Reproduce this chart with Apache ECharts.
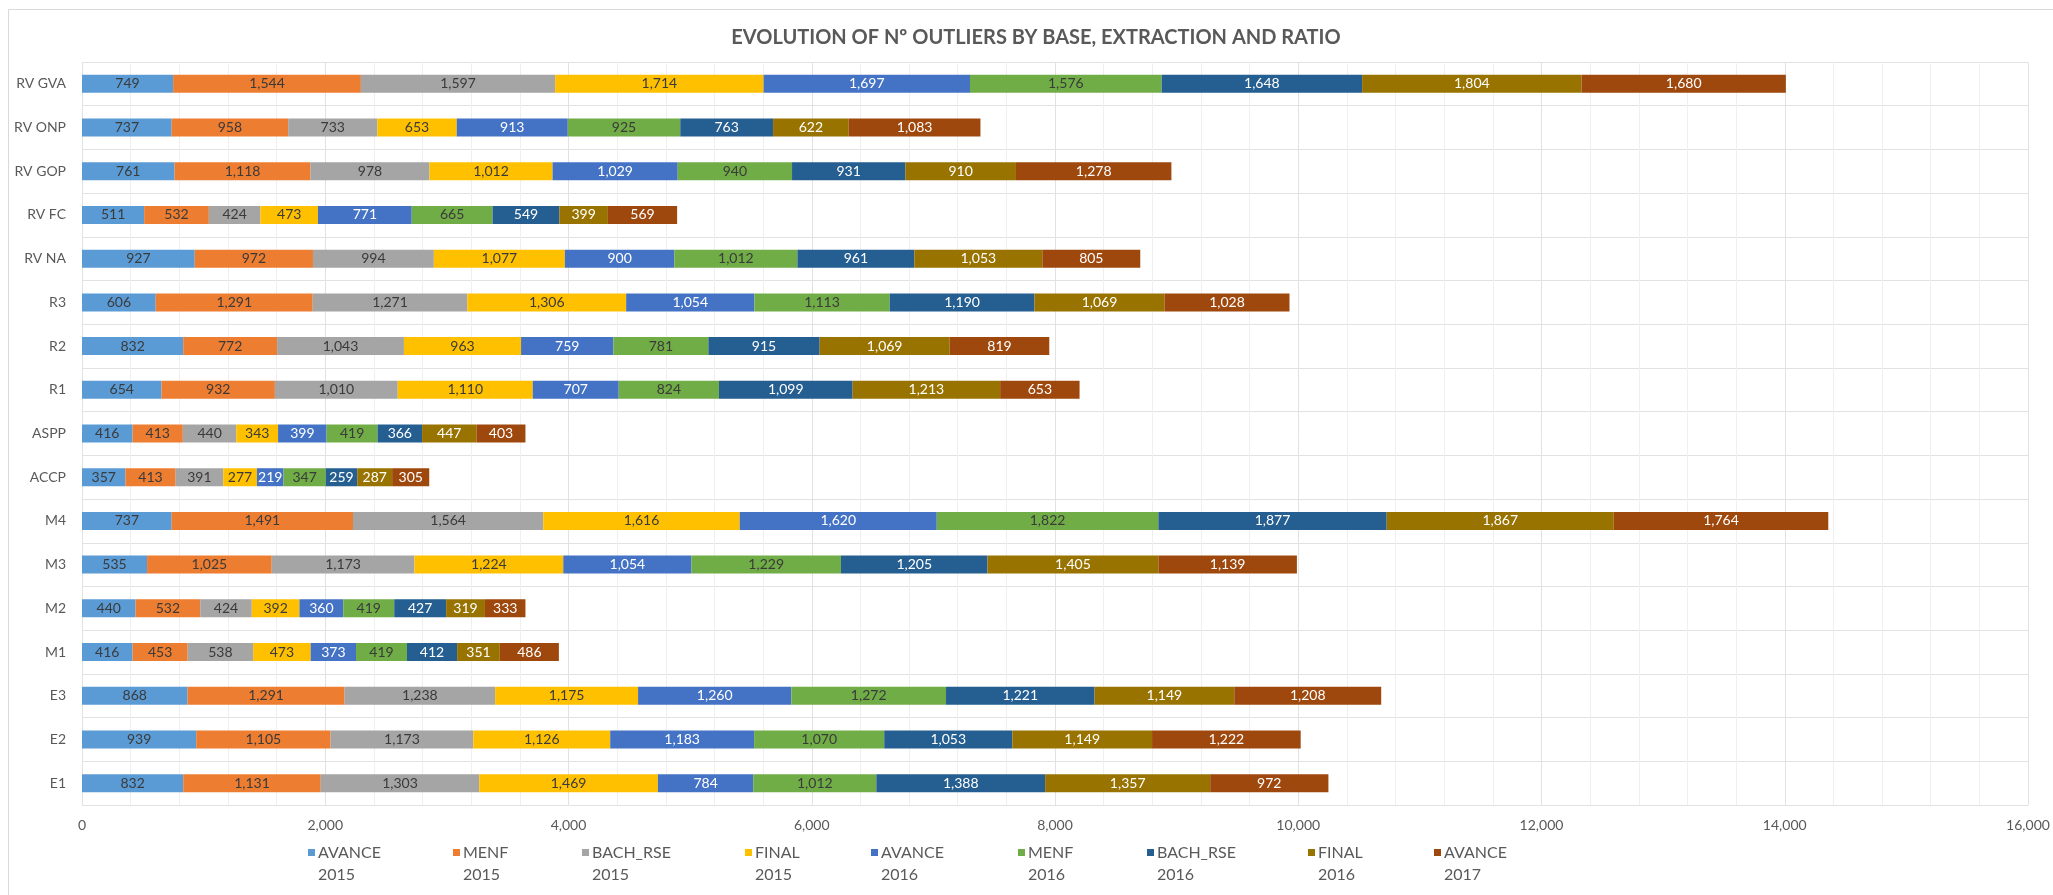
<!DOCTYPE html>
<html>
<head>
<meta charset="utf-8">
<title>Evolution of Nº outliers</title>
<script src="https://cdn.jsdelivr.net/npm/echarts@6/dist/echarts.min.js"></script>
<style>
  html, body { margin: 0; padding: 0; background: #ffffff; }
  #chart { width: 2053px; height: 895px; }
</style>
</head>
<body>
<div id="chart"></div>
<script>
// Categories, listed from the top row to the bottom row
const categories = ['RV GVA', 'RV ONP', 'RV GOP', 'RV FC', 'RV NA', 'R3', 'R2', 'R1', 'ASPP', 'ACCP', 'M4', 'M3', 'M2', 'M1', 'E3', 'E2', 'E1'];

// Number of outliers per extraction, one array per series (same order as categories)
const avance2015 = [749, 737, 761, 511, 927, 606, 832, 654, 416, 357, 737, 535, 440, 416, 868, 939, 832];
const menf2015   = [1544, 958, 1118, 532, 972, 1291, 772, 932, 413, 413, 1491, 1025, 532, 453, 1291, 1105, 1131];
const bach2015   = [1597, 733, 978, 424, 994, 1271, 1043, 1010, 440, 391, 1564, 1173, 424, 538, 1238, 1173, 1303];
const final2015  = [1714, 653, 1012, 473, 1077, 1306, 963, 1110, 343, 277, 1616, 1224, 392, 473, 1175, 1126, 1469];
const avance2016 = [1697, 913, 1029, 771, 900, 1054, 759, 707, 399, 219, 1620, 1054, 360, 373, 1260, 1183, 784];
const menf2016   = [1576, 925, 940, 665, 1012, 1113, 781, 824, 419, 347, 1822, 1229, 419, 419, 1272, 1070, 1012];
const bach2016   = [1648, 763, 931, 549, 961, 1190, 915, 1099, 366, 259, 1877, 1205, 427, 412, 1221, 1053, 1388];
const final2016  = [1804, 622, 910, 399, 1053, 1069, 1069, 1213, 447, 287, 1867, 1405, 319, 351, 1149, 1149, 1357];
const avance2017 = [1680, 1083, 1278, 569, 805, 1028, 819, 653, 403, 305, 1764, 1139, 333, 486, 1208, 1222, 972];

// Series names (two-line legend entries)
const seriesNames = ['AVANCE\n2015', 'MENF\n2015', 'BACH_RSE\n2015', 'FINAL\n2015', 'AVANCE\n2016', 'MENF\n2016', 'BACH_RSE\n2016', 'FINAL\n2016', 'AVANCE\n2017'];
const seriesValues = [avance2015, menf2015, bach2015, final2015, avance2016, menf2016, bach2016, final2016, avance2017];

// Value axis
const axisMin = 0;
const axisMax = 16000;
const axisStep = 2000;

const title = 'EVOLUTION OF Nº OUTLIERS BY BASE, EXTRACTION AND RATIO';

// Styling
const colors = ['#5B9BD5', '#ED7D31', '#A5A5A5', '#FFC000', '#4472C4', '#70AD47', '#255E91', '#997300', '#9E480E'];
const labelColors = ['#3a3a3a', '#3a3a3a', '#3a3a3a', '#3a3a3a', '#ffffff', '#3a3a3a', '#ffffff', '#ffffff', '#ffffff'];
const legendLeft = [308, 453, 582, 745, 871, 1018, 1147, 1308, 1434];
const FONT = 'Lato, "Open Sans", sans-serif';
const fmt = v => Number(v).toLocaleString('en-US');

const chart = echarts.init(document.getElementById('chart'), null, { renderer: 'canvas' });

const series = seriesNames.map((name, i) => ({
  name: name,
  type: 'bar',
  stack: 'total',
  barWidth: 18,
  data: seriesValues[i],
  itemStyle: { color: colors[i] },
  label: {
    show: true,
    position: 'inside',
    color: labelColors[i],
    fontFamily: FONT,
    fontSize: 14,
    formatter: p => fmt(p.value)
  },
  emphasis: { disabled: true }
}));

// One legend block per series so each entry sits at its own spot
const legends = seriesNames.map((name, i) => ({
  data: [name],
  left: legendLeft[i],
  top: 842,
  padding: 0,
  itemWidth: 7,
  itemHeight: 30,
  itemGap: 0,
  icon: 'path://M0,0L7,0L7,7L0,7Z M0,30L0.01,30',
  selectedMode: false,
  textStyle: {
    color: '#595959',
    fontFamily: FONT,
    fontSize: 16,
    lineHeight: 22,
    padding: [0, 0, 0, -2]
  }
}));

chart.setOption({
  animation: false,
  backgroundColor: '#ffffff',
  color: colors,
  title: {
    text: title,
    left: 1031,
    top: 23,
    textAlign: 'center',
    textStyle: {
      color: '#595959',
      fontFamily: FONT,
      fontSize: 20,
      fontWeight: 'bold'
    }
  },
  graphic: [{
    type: 'rect',
    shape: { x: 8.5, y: 9.5, width: 2100, height: 950 },
    style: { fill: 'none', stroke: '#d9d9d9', lineWidth: 1 },
    silent: true,
    z: -10
  }],
  legend: legends,
  grid: { left: 82, right: 25, top: 62, bottom: 90, containLabel: false },
  xAxis: {
    type: 'value',
    min: axisMin,
    max: axisMax,
    interval: axisStep,
    axisLine: { show: false },
    axisTick: { show: false },
    axisLabel: {
      color: '#595959',
      fontFamily: FONT,
      fontSize: 14,
      margin: 13,
      formatter: v => fmt(v)
    },
    splitLine: { show: true, lineStyle: { color: '#e2e2e2', width: 1 } },
    minorTick: { show: false, splitNumber: 5 },
    minorSplitLine: { show: true, lineStyle: { color: '#efefef', width: 1 } }
  },
  yAxis: {
    type: 'category',
    data: categories,
    inverse: true,
    axisLine: { show: false },
    axisTick: { show: false },
    axisLabel: {
      color: '#595959',
      fontFamily: FONT,
      fontSize: 14,
      margin: 16
    },
    splitLine: { show: true, lineStyle: { color: '#e2e2e2', width: 1 } }
  },
  series: series
});
</script>
</body>
</html>
